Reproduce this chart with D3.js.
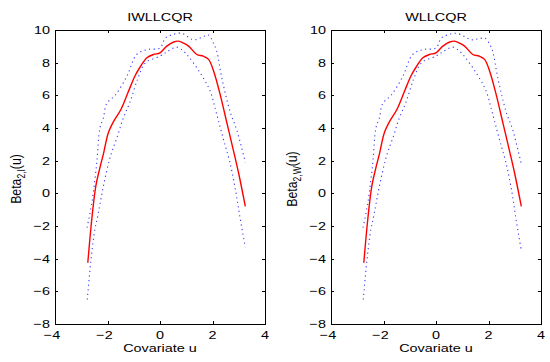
<!DOCTYPE html>
<html>
<head>
<meta charset="utf-8">
<script src="https://cdn.jsdelivr.net/npm/d3@7"></script>
<style>
  body { margin: 0; background: #fff; }
  text { font-family: "Liberation Sans", Arial, sans-serif; fill: #000; }
</style>
</head>
<body>
<svg id="chart" width="550" height="362"></svg>
<script>
// axis settings
const xDomain = [-4, 4];
const yDomain = [-8, 10];
const xTicks = [-4, -2, 0, 2, 4];
const yTicks = [-8, -6, -4, -2, 0, 2, 4, 6, 8, 10];
const titles = ['IWLLCQR', 'WLLCQR'];
const ySubs = ['2,I', '2,W'];

// IWLLCQR estimate and bands [u, beta]
const estI = [[-2.75, -4.25], [-2.6, -1.6], [-2.45, 0.4], [-2.3, 1.5], [-2.15, 2.45], [-1.97, 3.7],
  [-1.75, 4.45], [-1.5, 5.1], [-1.2, 6.25], [-0.95, 7.2], [-0.75, 7.75], [-0.5, 8.3], [-0.25, 8.5],
  [0, 8.6], [0.25, 9.0], [0.5, 9.25], [0.7, 9.32], [0.9, 9.2], [1.1, 9.0], [1.4, 8.5], [1.65, 8.4],
  [1.85, 8.2], [2.05, 7.45], [2.3, 6.0], [2.55, 4.3], [2.8, 2.6], [3.0, 1.2], [3.25, -0.8]];
const upI = [[-2.78, -2.1], [-2.6, -0.6], [-2.41, 1.84], [-2.29, 4.0], [-2.16, 4.6], [-2.03, 5.5],
  [-1.71, 6.0], [-1.27, 7.14], [-0.89, 8.5], [-0.5, 8.8], [0, 8.9], [0.2, 9.5], [0.44, 9.7],
  [0.83, 9.8], [1.27, 9.4], [1.6, 9.55], [1.84, 9.7], [2.03, 9.2], [2.16, 8.7], [2.35, 7.1],
  [2.67, 5.0], [2.92, 3.9], [3.25, 1.9]];
const loI = [[-2.77, -6.5], [-2.65, -4.4], [-2.5, -2.4], [-2.35, -1.2], [-2.16, 0.4], [-1.9, 2.2],
  [-1.6, 3.6], [-1.4, 4.6], [-1.14, 5.6], [-0.85, 7.0], [-0.55, 8.0], [0, 8.4], [0.3, 8.7],
  [0.63, 8.95], [0.9, 8.7], [1.1, 8.35], [1.5, 7.45], [1.9, 6.3], [2.15, 4.9], [2.4, 3.4],
  [2.67, 1.84], [2.9, 0], [3.05, -1.5], [3.25, -3.3]];

// WLLCQR estimate and bands [u, beta]
const estW = [[-2.75, -4.25], [-2.6, -1.6], [-2.45, 0.4], [-2.3, 1.5], [-2.15, 2.45], [-1.97, 3.7],
  [-1.75, 4.45], [-1.5, 5.1], [-1.2, 6.25], [-0.95, 7.2], [-0.75, 7.75], [-0.5, 8.3], [-0.25, 8.5],
  [0, 8.6], [0.25, 9.0], [0.5, 9.25], [0.7, 9.32], [0.9, 9.2], [1.1, 9.0], [1.4, 8.5], [1.65, 8.4],
  [1.85, 8.2], [2.05, 7.45], [2.3, 6.0], [2.55, 4.3], [2.8, 2.6], [3.0, 1.2], [3.25, -0.8]];
const upW = [[-2.78, -2.1], [-2.6, -0.6], [-2.41, 1.84], [-2.29, 4.0], [-2.16, 4.6], [-2.03, 5.5],
  [-1.71, 6.0], [-1.27, 7.14], [-0.89, 8.5], [-0.5, 8.8], [0, 8.9], [0.2, 9.5], [0.44, 9.7],
  [0.79, 9.8], [1.36, 9.4], [1.6, 9.45], [1.87, 9.5], [2.05, 9.1], [2.16, 8.7], [2.35, 7.1],
  [2.67, 5.0], [2.92, 3.9], [3.25, 1.8]];
const loW = [[-2.77, -6.5], [-2.65, -4.4], [-2.5, -2.4], [-2.35, -1.2], [-2.16, 0.4], [-1.9, 2.2],
  [-1.6, 3.6], [-1.4, 4.6], [-1.14, 5.6], [-0.85, 7.0], [-0.55, 8.0], [0, 8.4], [0.3, 8.7],
  [0.63, 8.95], [0.9, 8.7], [1.1, 8.35], [1.5, 7.45], [1.9, 6.3], [2.15, 4.9], [2.4, 3.4],
  [2.67, 1.84], [2.9, 0], [3.05, -1.6], [3.25, -3.5]];

const panels = [
  { left: 55, right: 265, est: estI, up: upI, lo: loI },
  { left: 331, right: 541, est: estW, up: upW, lo: loW }
];
const plotTop = 30, plotBottom = 324;
const fs = 11.8, sx = 1.22; // picture is stretched sideways

const svg = d3.select('#chart');

function label(g, txt, x, y, anchor) {
  return g.append('text')
    .attr('transform', 'translate(' + x + ',' + y + ') scale(' + sx + ',1)')
    .attr('text-anchor', anchor)
    .attr('font-size', fs)
    .text(txt);
}

panels.forEach((p, i) => {
  const x = d3.scaleLinear().domain(xDomain).range([p.left, p.right]);
  const y = d3.scaleLinear().domain(yDomain).range([plotBottom, plotTop]);
  const g = svg.append('g');

  const line = d3.line()
    .x(d => x(d[0]))
    .y(d => y(d[1]))
    .curve(d3.curveCatmullRom.alpha(0.5));

  [p.up, p.lo].forEach(band => {
    g.append('path')
      .datum(band)
      .attr('d', line)
      .attr('fill', 'none')
      .attr('stroke', '#3a3aff')
      .attr('stroke-width', 1.1)
      .attr('stroke-dasharray', '1.2,3.4');
  });
  g.append('path')
    .datum(p.est)
    .attr('d', line)
    .attr('fill', 'none')
    .attr('stroke', '#ff0000')
    .attr('stroke-width', 1.4);

  // box with inward ticks on all sides
  const tickLen = 3;
  g.append('rect')
    .attr('x', p.left + 0.5).attr('y', plotTop + 0.5)
    .attr('width', p.right - p.left).attr('height', plotBottom - plotTop)
    .attr('fill', 'none').attr('stroke', '#000').attr('stroke-width', 1);

  xTicks.forEach(t => {
    const px = Math.round(x(t)) + 0.5;
    g.append('line').attr('x1', px).attr('x2', px)
      .attr('y1', plotBottom).attr('y2', plotBottom - tickLen).attr('stroke', '#000');
    g.append('line').attr('x1', px).attr('x2', px)
      .attr('y1', plotTop).attr('y2', plotTop + tickLen).attr('stroke', '#000');
    label(g, d3.format('')(t), x(t) - (t < 0 ? 3 : 0), plotBottom + 15, 'middle');
  });
  yTicks.forEach(t => {
    const py = Math.round(y(t)) + 0.5;
    g.append('line').attr('x1', p.left).attr('x2', p.left + tickLen)
      .attr('y1', py).attr('y2', py).attr('stroke', '#000');
    g.append('line').attr('x1', p.right).attr('x2', p.right - tickLen)
      .attr('y1', py).attr('y2', py).attr('stroke', '#000');
    label(g, d3.format('')(t), p.left - 5, y(t) + 4, 'end');
  });

  const cx = (p.left + p.right) / 2;
  label(g, titles[i], cx, 21, 'middle');
  label(g, 'Covariate u', cx, 352, 'middle');

  const yl = g.append('text')
    .attr('transform', 'translate(' + (p.left - 34) + ',' + ((plotTop + plotBottom) / 2 + 2) + ') scale(' + sx + ',1) rotate(-90)')
    .attr('text-anchor', 'middle')
    .attr('font-size', fs + 0.5);
  yl.append('tspan').text('Beta');
  yl.append('tspan').attr('font-size', 8.5).attr('dy', 3).text(ySubs[i]);
  yl.append('tspan').attr('dy', -3).text('(u)');
});
</script>
</body>
</html>
